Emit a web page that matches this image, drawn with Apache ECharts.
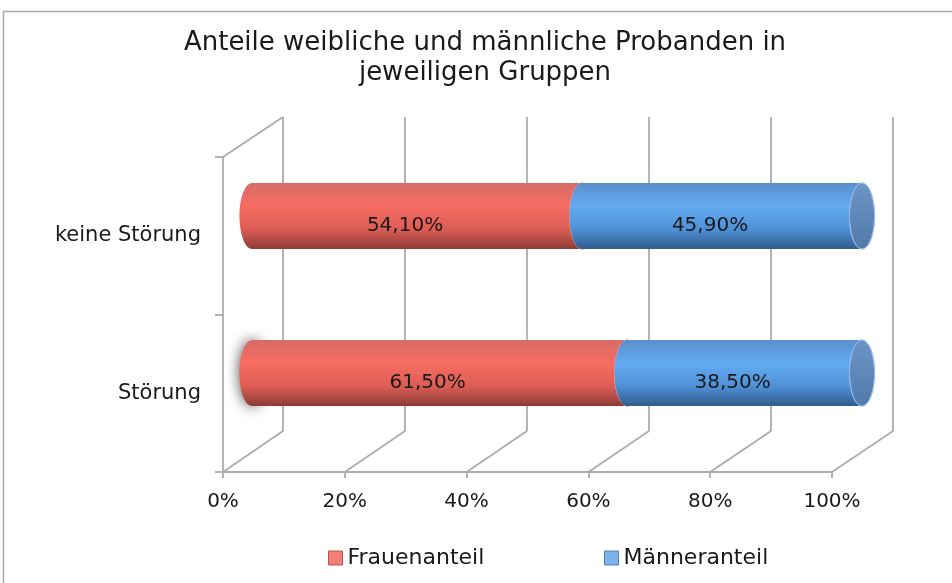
<!DOCTYPE html>
<html>
<head>
<meta charset="utf-8">
<script src="https://cdn.jsdelivr.net/npm/echarts@6/dist/echarts.min.js"></script>
<style>
  html, body { margin: 0; padding: 0; background: #fff; }
  #chart { width: 952px; height: 583px; }
</style>
</head>
<body>
<div id="chart"></div>
<script>
  // Daten
  var groups = ['Störung', 'keine Störung'];      // von unten nach oben
  var frauen = [61.5, 54.1];
  var maenner = [38.5, 45.9];
  var xTicks = [0, 20, 40, 60, 80, 100];

  var FONT = '"DejaVu Sans", sans-serif';
  var LINE = '#acacac';
  var H = 583;
  // Rückwand und Vorderkante der "3D"-Fläche
  var BACK = { left: 283, right: 59, top: 117, bottom: 152 };
  var FRONT = { left: 223, right: 120, top: 157, bottom: 111 };

  var chart = echarts.init(document.getElementById('chart'));

  function grad(stops) {
    return new echarts.graphic.LinearGradient(0, 0, 0, 1, stops);
  }
  var redBody = [
    { offset: 0, color: '#d66c66' }, { offset: 0.35, color: '#f76c62' },
    { offset: 0.7, color: '#dc5d55' }, { offset: 1, color: '#8c3b36' }
  ];
  var blueBody = [
    { offset: 0, color: '#5a8ecb' }, { offset: 0.35, color: '#63abf1' },
    { offset: 0.7, color: '#4f90d6' }, { offset: 1, color: '#325c8d' }
  ];
  var redCap = [{ offset: 0, color: '#c46a65' }, { offset: 1, color: '#b05550' }];
  var blueCap = [{ offset: 0, color: '#6c95c6' }, { offset: 1, color: '#5279a8' }];

  function fmt(v) {
    return v.toFixed(2).replace('.', ',') + '%';
  }

  // Zylinder-Segmente
  function cylinder(body, cap, edge) {
    return function (params, api) {
      var cat = api.value(0);
      var v0 = api.value(1);
      var v1 = api.value(2);
      var p0 = api.coord([v0, cat]);
      var p1 = api.coord([v1, cat]);
      var h = api.size([0, 1])[1] * 0.42;
      var rx = h * 0.19;
      var back = { fill: grad(body) };
      if (params.seriesIndex === 0 && cat === 0) {
        back.shadowBlur = 14;
        back.shadowColor = 'rgba(0,0,0,0.7)';
      }
      return {
        type: 'group',
        children: [
          { type: 'ellipse', shape: { cx: p0[0], cy: p0[1], rx: rx, ry: h / 2 }, style: back },
          { type: 'rect', shape: { x: p0[0], y: p0[1] - h / 2, width: p1[0] - p0[0], height: h }, style: { fill: grad(body) } },
          { type: 'ellipse', shape: { cx: p1[0], cy: p1[1], rx: rx, ry: h / 2 },
            style: { fill: grad(cap), stroke: edge, lineWidth: 1 } },
          { type: 'text', style: {
              text: fmt(v1 - v0), x: (p0[0] + p1[0]) / 2 - 12, y: p0[1] + 10,
              align: 'center', verticalAlign: 'middle',
              fill: '#1a1a1a', font: '20px ' + FONT } }
        ]
      };
    };
  }

  var frauenData = [], maennerData = [];
  for (var i = 0; i < groups.length; i++) {
    frauenData.push([i, 0, frauen[i]]);
    maennerData.push([i, frauen[i], frauen[i] + maenner[i]]);
  }

  var option = {
    animation: false,
    title: {
      text: 'Anteile weibliche und männliche Probanden in\njeweiligen Gruppen',
      left: 485,
      textAlign: 'center',
      top: 28,
      padding: 0,
      textStyle: { fontFamily: FONT, fontSize: 26, fontWeight: 'normal', color: '#1a1a1a', lineHeight: 30 }
    },
    legend: [{
      left: 328, top: 547, padding: 0,
      itemWidth: 14, itemHeight: 14,
      textStyle: { fontFamily: FONT, fontSize: 22, color: '#1a1a1a' },
      data: [{ name: 'Frauenanteil', icon: 'rect', itemStyle: { color: '#f07f78', borderColor: '#c0504d', borderWidth: 1 } }]
    }, {
      left: 604, top: 547, padding: 0,
      itemWidth: 14, itemHeight: 14,
      textStyle: { fontFamily: FONT, fontSize: 22, color: '#1a1a1a' },
      data: [{ name: 'Männeranteil', icon: 'rect', itemStyle: { color: '#7fb2ea', borderColor: '#4f81bd', borderWidth: 1 } }]
    }],
    grid: [
      { left: BACK.left, right: BACK.right, top: BACK.top, bottom: BACK.bottom },
      { left: FRONT.left, right: FRONT.right, top: FRONT.top, bottom: FRONT.bottom },
      { left: 252, right: 90, top: 137.5, bottom: 131.5 }
    ],
    xAxis: [
      { gridIndex: 0, type: 'value', min: 0, max: 100, interval: 20,
        axisLine: { show: false }, axisTick: { show: false }, axisLabel: { show: false },
        splitLine: { show: true, lineStyle: { color: LINE, width: 1.8 } } },
      { gridIndex: 1, type: 'value', min: 0, max: 100, interval: 20,
        axisLine: { show: true, lineStyle: { color: LINE, width: 1.8 } },
        axisTick: { show: true, length: 6, lineStyle: { color: LINE, width: 1.8 } },
        axisLabel: { formatter: '{value}%', margin: 20, color: '#1a1a1a', fontFamily: FONT, fontSize: 20 },
        splitLine: { show: false } },
      { gridIndex: 2, type: 'value', min: 0, max: 100, show: false }
    ],
    yAxis: [
      { gridIndex: 0, type: 'category', data: groups, show: false },
      { gridIndex: 1, type: 'category', data: groups,
        axisLine: { show: true, lineStyle: { color: LINE, width: 1.8 } },
        axisTick: { show: true, length: 8, lineStyle: { color: LINE, width: 1.8 } },
        axisLabel: { margin: 22, color: '#1a1a1a', fontFamily: FONT, fontSize: 21 },
        splitLine: { show: false } },
      { gridIndex: 2, type: 'category', data: groups, show: false }
    ],
    series: [
      { name: 'Frauenanteil', type: 'custom', xAxisIndex: 2, yAxisIndex: 2,
        itemStyle: { color: '#ea6a62' },
        encode: { x: [1, 2], y: 0 },
        renderItem: cylinder(redBody, redCap, '#e89a95'),
        data: frauenData },
      { name: 'Männeranteil', type: 'custom', xAxisIndex: 2, yAxisIndex: 2,
        itemStyle: { color: '#5b9bd5' },
        encode: { x: [1, 2], y: 0 },
        renderItem: cylinder(blueBody, blueCap, '#8fbcef'),
        data: maennerData }
    ]
  };
  chart.setOption(option);

  // Bodenlinien zwischen Vorderkante und Rückwand
  var frontY = H - FRONT.bottom, backY = H - BACK.bottom;
  var shapes = [{
    type: 'rect', silent: true, z: -1,
    shape: { x: 3.5, y: 11.5, width: 1000, height: 1000 },
    style: { fill: 'none', stroke: '#aaaaaa', lineWidth: 1.5 }
  }];
  xTicks.forEach(function (v) {
    var xf = chart.convertToPixel({ xAxisIndex: 1 }, v);
    var xb = chart.convertToPixel({ xAxisIndex: 0 }, v);
    shapes.push({ type: 'line', silent: true, shape: { x1: xf, y1: frontY, x2: xb, y2: backY },
      style: { stroke: LINE, lineWidth: 1.8 } });
  });
  shapes.push({ type: 'line', silent: true,
    shape: { x1: chart.convertToPixel({ xAxisIndex: 1 }, 0), y1: FRONT.top,
             x2: chart.convertToPixel({ xAxisIndex: 0 }, 0), y2: BACK.top },
    style: { stroke: LINE, lineWidth: 1.8 } });
  chart.setOption({ graphic: shapes });
</script>
</body>
</html>
